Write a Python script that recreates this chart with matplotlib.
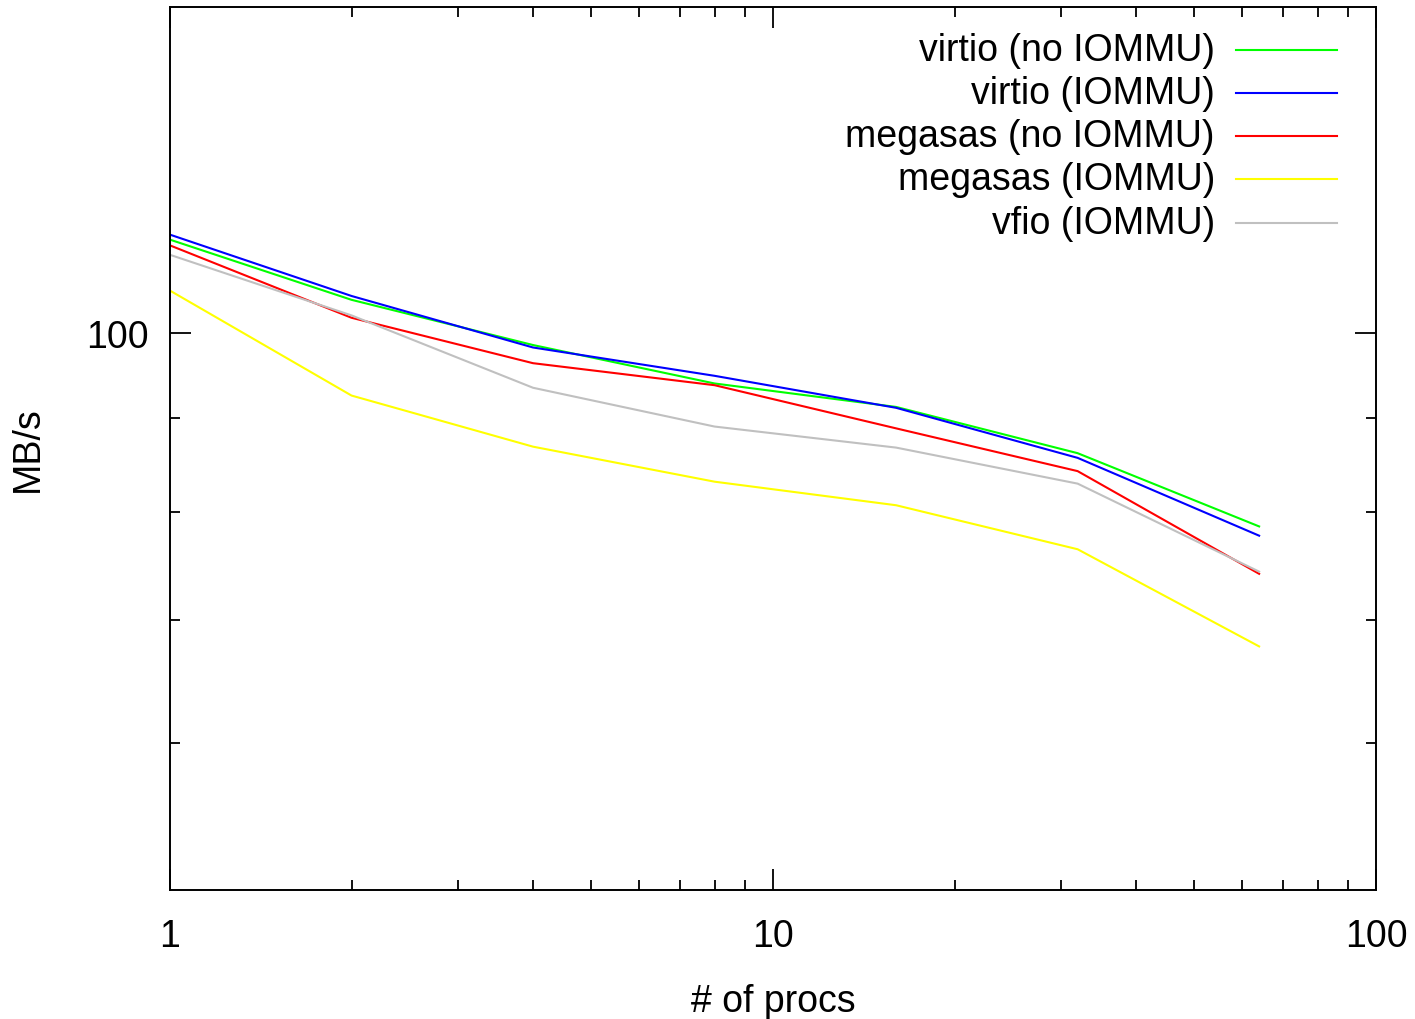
import matplotlib
matplotlib.use('Agg')
import matplotlib.pyplot as plt

plt.rcParams['font.family'] = ['Liberation Sans', 'DejaVu Sans']

# throughput vs number of processes, per storage setup
procs = [1, 2, 4, 8, 16, 32, 64]
virtio_no_iommu = [112.3, 104.2, 98.5, 93.9, 91.2, 86.1, 78.6]
virtio_iommu = [113.0, 104.7, 98.2, 94.8, 91.1, 85.6, 77.7]
megasas_no_iommu = [111.5, 101.9, 96.3, 93.7, 88.8, 84.2, 74.1]
megasas_iommu = [105.4, 92.5, 86.8, 83.1, 80.7, 76.4, 67.7]
vfio_iommu = [110.2, 102.2, 93.4, 89.0, 86.7, 82.9, 74.3]

series = [virtio_no_iommu, virtio_iommu, megasas_no_iommu, megasas_iommu, vfio_iommu]
series_labels = ['virtio (no IOMMU)', 'virtio (IOMMU)', 'megasas (no IOMMU)',
                 'megasas (IOMMU)', 'vfio (IOMMU)']
series_colors = ['#00ff00', '#0000ff', '#ff0000', '#ffff00', '#c0c0c0']

x_ticks = [1, 10, 100]
x_tick_labels = ['1', '10', '100']
x_minor = [2, 3, 4, 5, 6, 7, 8, 9, 20, 30, 40, 50, 60, 70, 80, 90]
y_ticks = [100]
y_tick_labels = ['100']
y_minor = [60, 70, 80, 90]

textsize = 27
lw = 1.5

W, H = 1415, 1020
fig = plt.figure(figsize=(W / 100, H / 100), dpi=100, facecolor='white')
# axes box in pixels: left 170, right 1376, top 8, bottom 891
ax = fig.add_axes([170 / W, (H - 891) / H, 1206 / W, 883 / H])

for vals, color in zip(series, series_colors):
    ax.plot(procs, vals, color=color, lw=lw)

ax.set_xscale('log')
ax.set_yscale('log')
ax.set_xlim(1, 100)
ax.set_ylim(50, 150)

ax.set_xticks(x_ticks, labels=x_tick_labels)
ax.set_xticks(x_minor, labels=[''] * len(x_minor), minor=True)
ax.set_yticks(y_ticks, labels=y_tick_labels)
ax.set_yticks(y_minor, labels=[''] * len(y_minor), minor=True)

ax.tick_params(which='both', direction='in', top=True, right=True,
               width=1.3, color='black', labelsize=textsize)
ax.tick_params(which='major', length=15)
ax.tick_params(which='minor', length=7.5)
ax.tick_params(axis='x', which='major', pad=20)
ax.tick_params(axis='y', which='major', pad=15)
for sp in ax.spines.values():
    sp.set_linewidth(1.4)

ax.set_xlabel('# of procs', fontsize=textsize, labelpad=21)
ax.set_ylabel('MB/s', fontsize=textsize, labelpad=29)

# key in the top right corner: right-aligned text, line sample after it
key_text_x = 0.8665
key_line_x = [0.8839, 0.9677]
key_top, key_step = 0.9516, 0.04898
for i, (label, color) in enumerate(zip(series_labels, series_colors)):
    ky = key_top - i * key_step
    ax.text(key_text_x, ky, label, transform=ax.transAxes, ha='right', va='center',
            fontsize=textsize)
    ax.plot(key_line_x, [ky, ky], transform=ax.transAxes, color=color, lw=lw,
            clip_on=False)

fig.savefig('out.png', dpi=100)
